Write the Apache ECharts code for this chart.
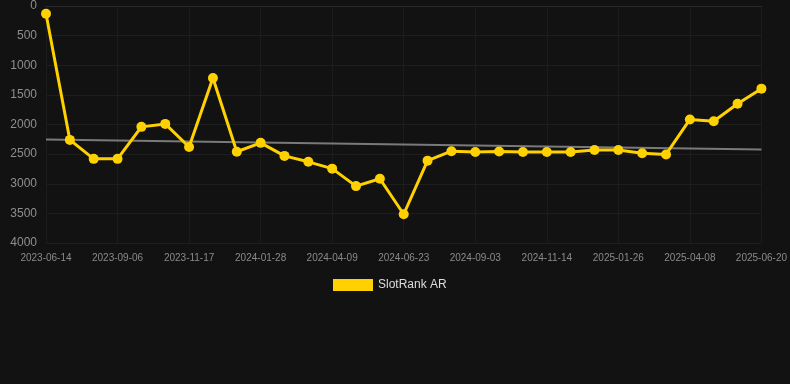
<!DOCTYPE html>
<html>
<head>
<meta charset="utf-8">
<script src="https://cdn.jsdelivr.net/npm/echarts@6/dist/echarts.min.js"></script>
<style>
  html, body { margin: 0; padding: 0; background: #121212; }
  #chart { width: 790px; height: 384px; }
</style>
</head>
<body>
<div id="chart"></div>
<script>
const dates = [
  '2023-06-14', '2023-07-12', '2023-08-09', '2023-09-06', '2023-09-30', '2023-10-24',
  '2023-11-17', '2023-12-11', '2024-01-04', '2024-01-28', '2024-02-21', '2024-03-16',
  '2024-04-09', '2024-05-04', '2024-05-29', '2024-06-23', '2024-07-17', '2024-08-10',
  '2024-09-03', '2024-09-27', '2024-10-21', '2024-11-14', '2024-12-08', '2025-01-01',
  '2025-01-26', '2025-02-19', '2025-03-15', '2025-04-08', '2025-05-02', '2025-05-26',
  '2025-06-20',
]
const rank = [
  130, 2260, 2580, 2580, 2040, 1990, 2380, 1215, 2460, 2310,
  2530, 2630, 2745, 3040, 2915, 3515, 2610, 2450, 2465, 2455,
  2465, 2465, 2465, 2430, 2430, 2485, 2505, 1915, 1945, 1650,
  1395,
]
// trend line: start and end values only
const trendEnds = [2255, 2420]
const yTicks = [0, 4000, 500]

const trend = dates.map((d, i) =>
  i === 0 ? trendEnds[0] : i === dates.length - 1 ? trendEnds[1] : null
)

var myChart = echarts.init(document.getElementById('chart'))
var option = {
  backgroundColor: '#121212',
  animation: false,
  grid: {
    top: 6,
    left: 46,
    right: 28,
    bottom: 141,
  },
  legend: {
    data: ['SlotRank AR'],
    top: 274,
    left: 328,
    itemWidth: 40,
    itemHeight: 12,
    itemGap: 6,
    icon: 'rect',
    textStyle: {
      color: '#dddddd',
      fontSize: 12,
    },
  },
  xAxis: {
    type: 'category',
    data: dates,
    boundaryGap: false,
    axisLine: { show: true, lineStyle: { color: '#2a2a2a' } },
    axisTick: { show: false },
    axisLabel: {
      interval: 2,
      color: '#8a8a8a',
      fontSize: 10,
      margin: 10,
    },
    splitLine: {
      show: true,
      interval: 2,
      lineStyle: { color: '#1c1c1c', width: 1 },
    },
  },
  yAxis: {
    type: 'value',
    inverse: true,
    min: yTicks[0],
    max: yTicks[1],
    interval: yTicks[2],
    axisLine: { show: false },
    axisTick: { show: false },
    axisLabel: {
      color: '#8f8f8f',
      fontSize: 12,
      margin: 9,
      formatter: (v) => String(v),
    },
    splitLine: {
      lineStyle: { color: '#1e1e1e', width: 1 },
    },
  },
  series: [
    {
      name: 'trend',
      type: 'line',
      data: trend,
      connectNulls: true,
      symbol: 'none',
      lineStyle: { color: '#7a7a7a', width: 2 },
      silent: true,
      z: 1,
    },
    {
      name: 'SlotRank AR',
      type: 'line',
      data: rank,
      symbol: 'circle',
      symbolSize: 10,
      itemStyle: { color: '#ffd100' },
      lineStyle: { color: '#ffd100', width: 3 },
      z: 2,
    },
  ],
}

option && myChart.setOption(option)
window.addEventListener('resize', function () {
  myChart.resize()
})
</script>
</body>
</html>
